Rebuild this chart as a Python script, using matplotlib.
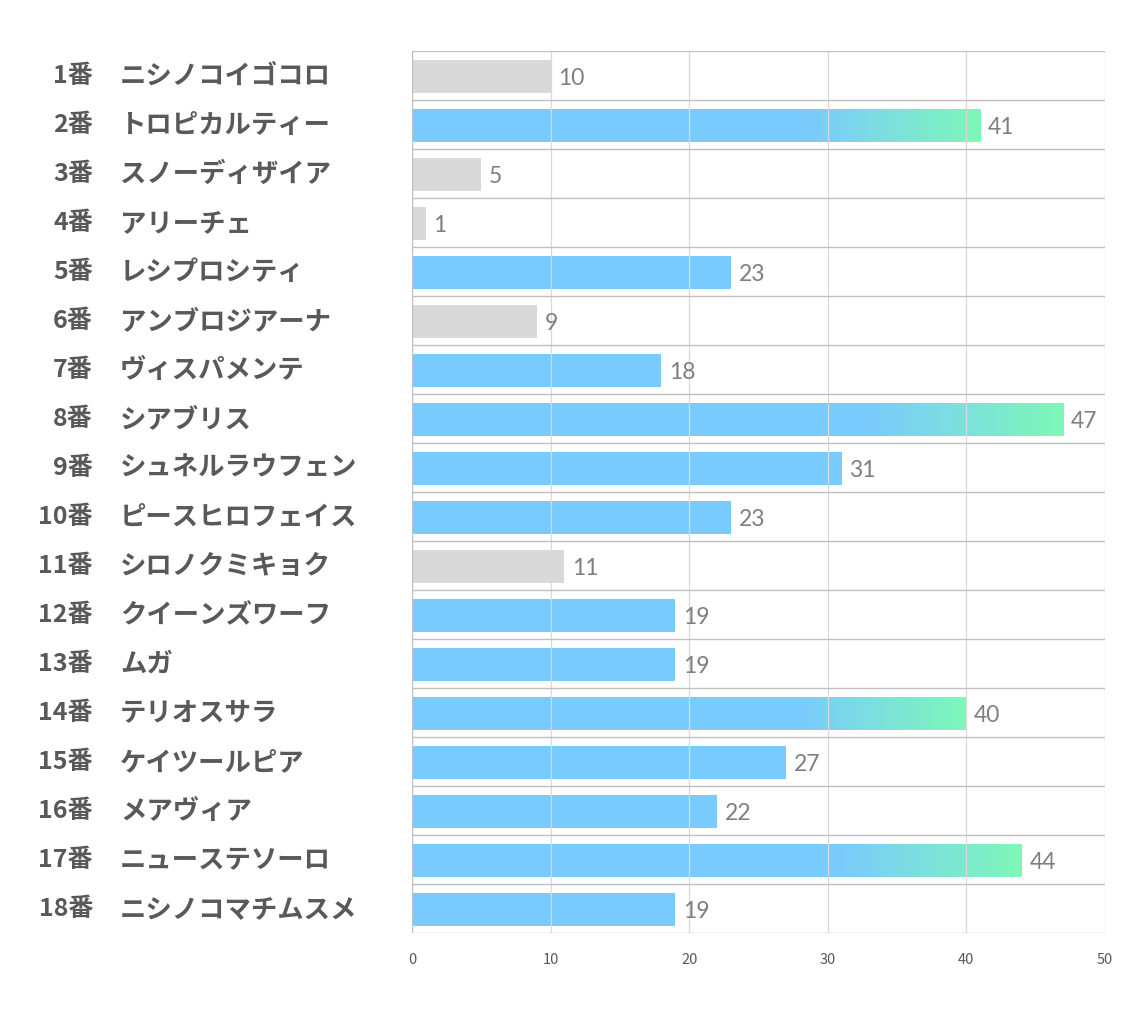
import numpy as np
import matplotlib.pyplot as plt
from matplotlib.colors import LinearSegmentedColormap

plt.rcParams['font.family'] = ['Noto Sans CJK JP', 'DejaVu Sans']

numbers = [f"{i}番" for i in range(1, 19)]
names = ["ニシノコイゴコロ", "トロピカルティー", "スノーディザイア", "アリーチェ",
         "レシプロシティ", "アンブロジアーナ", "ヴィスパメンテ", "シアブリス",
         "シュネルラウフェン", "ピースヒロフェイス", "シロノクミキョク", "クイーンズワーフ",
         "ムガ", "テリオスサラ", "ケイツールピア", "メアヴィア",
         "ニューステソーロ", "ニシノコマチムスメ"]
values = [10, 41, 5, 1, 23, 9, 18, 47, 31, 23, 11, 19, 19, 40, 27, 22, 44, 19]
xticks = [0, 10, 20, 30, 40, 50]

GRAY = "#d9d9d9"
BLUE = "#7acbfd"
GREEN = "#7ef8b8"
grad = LinearSegmentedColormap.from_list("g", [BLUE, GREEN])

fig = plt.figure(figsize=(11.34, 10.2), dpi=100)
ax = fig.add_axes([412 / 1134, 1 - 934 / 1020, 693 / 1134, 882 / 1020])

y = np.arange(len(values))
h = 0.67
for yi, v in zip(y, values):
    if v <= 11:
        c = GRAY
    else:
        c = BLUE
    ax.barh(yi + 0.02, v, height=h, color=c, zorder=1)
    if v >= 40:
        # gradient over the last ~30% of the bar
        g = np.linspace(0, 1, 256).reshape(1, -1)
        ax.imshow(g, cmap=grad, extent=[v * 0.7, v, yi + 0.02 + h / 2, yi + 0.02 - h / 2],
                  aspect='auto', zorder=1.5, interpolation='bilinear')
    ax.text(v + 0.55, yi + 0.04, str(v), va='center', ha='left', fontsize=16.5,
            color='#7f7f7f', family=['Lato', 'DejaVu Sans'])

ax.set_xlim(0, 50)
ax.set_ylim(len(values) - 0.5, -0.5)

for xv in xticks[1:]:
    ax.axvline(xv, color='#d9d9d9', lw=0.9, zorder=2)
ax.axvline(0, color='#bfbfbf', lw=1.0, zorder=3)
for b in np.arange(len(values) + 1) - 0.5:
    ax.axhline(b, color='#bfbfbf', lw=1.0, zorder=3)

for s in ax.spines.values():
    s.set_visible(False)

ax.set_xticks(xticks)
ax.set_xticklabels([str(t) for t in xticks], fontsize=10.5, color='#595959')
ax.tick_params(axis='x', length=0, pad=14)
ax.set_yticks([])

tr = ax.get_yaxis_transform()
for yi, n, nm in zip(y, numbers, names):
    ax.text((93 - 412) / 693, yi, n, transform=tr, ha='right', va='center',
            fontsize=18, fontweight='bold', color='#595959')
    ax.text((120 - 412) / 693, yi, nm, transform=tr, ha='left', va='center',
            fontsize=19, fontweight='bold', color='#595959')

fig.savefig("out.png", dpi=100, facecolor='white')
